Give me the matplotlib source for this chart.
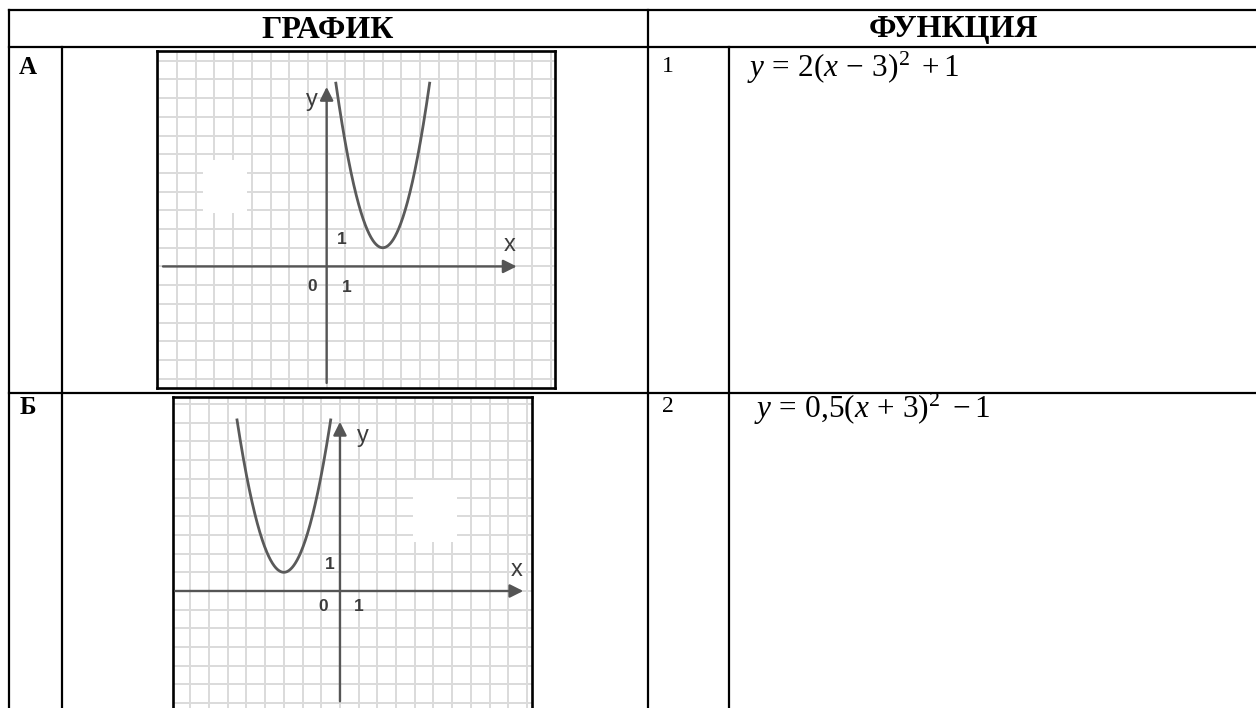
import numpy as np
import matplotlib
matplotlib.use("Agg")
import matplotlib.pyplot as plt
from matplotlib.patches import Rectangle

# ---------------- data ----------------
headers = ["ГРАФИК", "ФУНКЦИЯ"]
row_letters = ["А", "Б"]
row_numbers = ["1", "2"]
formulas = [r"$y\,=\,2(x\,-\,3)^2\ +1$", r"$y\,=\,0{,}5(x\,+\,3)^2\ -1$"]
vertex_x = [3, -3]          # vertex of each drawn parabola
vertex_y = [1, 1]
coef = [1.4, 1.3]           # steepness
curve_top = [9.8, 9.15]     # y value where the drawn branches end
origin_label = "0"
unit_label = "1"

# ---------------- layout ----------------
W, H = 1256, 708
plt.rcParams['mathtext.fontset'] = 'custom'
plt.rcParams['mathtext.rm'] = 'Liberation Serif'
plt.rcParams['mathtext.it'] = 'Liberation Serif:italic'
plt.rcParams['mathtext.bf'] = 'Liberation Serif:bold'

fig = plt.figure(figsize=(W / 100, H / 100), dpi=100)
ax0 = fig.add_axes([0, 0, 1, 1])
ax0.set_xlim(0, W)
ax0.set_ylim(H, 0)
ax0.axis('off')

lw_t = 1.6
k = 'black'
# table lines
ax0.plot([9, W + 5], [10, 10], color=k, lw=lw_t)
ax0.plot([9, W + 5], [47, 47], color=k, lw=lw_t)
ax0.plot([9, W + 5], [393, 393], color=k, lw=lw_t)
ax0.plot([9, 9], [10, H + 5], color=k, lw=lw_t)
ax0.plot([62, 62], [47, H + 5], color=k, lw=lw_t)
ax0.plot([648, 648], [10, H + 5], color=k, lw=lw_t)
ax0.plot([729, 729], [47, H + 5], color=k, lw=lw_t)

serif = 'Liberation Serif'
ax0.text(328, 30, headers[0], fontsize=23, fontweight='bold', family=serif,
         ha='center', va='center')
ax0.text(953, 30, headers[1], fontsize=23, fontweight='bold', family=serif,
         ha='center', va='center')

row_y = [68, 408]
for i in range(2):
    ax0.text(28, row_y[i], row_letters[i], fontsize=18, fontweight='bold',
             family=serif, ha='center', va='center')
    ax0.text(668, row_y[i] - 1, row_numbers[i], fontsize=17, family=serif,
             ha='center', va='center')
ax0.text(747, 77, formulas[0], fontsize=22.5, ha='left', va='baseline')
ax0.text(754, 418, formulas[1], fontsize=22.5, ha='left', va='baseline')

# ---------------- graph panels ----------------
panels = [
    dict(box=(157, 51, 555, 388), xlim=(-9.07, 12.21), ylim=(-6.5, 11.52),
         xaxis=(-8.75, 10.16), yaxis=(-6.23, 9.6),
         ylab=(-0.8, 8.9), xlab=(9.8, 1.15), ytick=(0.8, 1.45),
         zero=(-0.75, -1.05), xtick=(1.07, -1.1),
         patch=(-6.6, 2.84, 2.32, 2.86)),
    dict(box=(173.3, 397.3, 531.7, 720), xlim=(-8.91, 10.25), ylim=(-6.9, 10.36),
         xaxis=(-8.8, 9.8), yaxis=(-5.9, 9.05),
         ylab=(1.2, 8.3), xlab=(9.45, 1.12), ytick=(-0.55, 1.4),
         zero=(-0.9, -0.85), xtick=(0.98, -0.85),
         patch=(3.92, 2.64, 2.32, 3.3)),
]

gcol = '#555555'
for i, p in enumerate(panels):
    x0, y0, x1, y1 = p['box']
    ax = fig.add_axes([x0 / W, 1 - y1 / H, (x1 - x0) / W, (y1 - y0) / H])
    ax.set_xlim(*p['xlim'])
    ax.set_ylim(*p['ylim'])
    ax.set_xticks(np.arange(np.ceil(p['xlim'][0]), p['xlim'][1]))
    ax.set_yticks(np.arange(np.ceil(p['ylim'][0]), p['ylim'][1]))
    ax.grid(True, color='#dbdbdb', lw=1.4)
    ax.set_axisbelow(True)
    ax.tick_params(length=0, labelbottom=False, labelleft=False)
    for s in ax.spines.values():
        s.set_linewidth(1.9)
        s.set_color('black')
    px, py, pw, ph = p['patch']
    ax.add_patch(Rectangle((px, py), pw, ph, facecolor='white',
                           edgecolor='none', zorder=2))
    # axes with arrows
    ax.annotate('', xy=(p['xaxis'][1], 0), xytext=(p['xaxis'][0], 0),
                arrowprops=dict(arrowstyle='-|>', color=gcol, lw=1.7,
                                mutation_scale=20, shrinkA=0, shrinkB=0),
                zorder=3)
    ax.annotate('', xy=(0, p['yaxis'][1]), xytext=(0, p['yaxis'][0]),
                arrowprops=dict(arrowstyle='-|>', color=gcol, lw=1.7,
                                mutation_scale=20, shrinkA=0, shrinkB=0),
                zorder=3)
    # parabola
    half = np.sqrt((curve_top[i] - vertex_y[i]) / coef[i])
    xs = np.linspace(vertex_x[i] - half, vertex_x[i] + half, 300)
    ys = coef[i] * (xs - vertex_x[i]) ** 2 + vertex_y[i]
    ax.plot(xs, ys, color='#5a5a5a', lw=2.0, zorder=4)
    # labels
    sans = 'Liberation Sans'
    tc = '#3c3c3c'
    ax.text(*p['ylab'], 'y', fontsize=17, family=sans, color=tc,
            ha='center', va='center', zorder=5)
    ax.text(*p['xlab'], 'x', fontsize=17, family=sans, color=tc,
            ha='center', va='center', zorder=5)
    ax.text(*p['ytick'], unit_label, fontsize=12.5, family=sans, color=tc,
            fontweight='bold', ha='center', va='center', zorder=5)
    ax.text(*p['zero'], origin_label, fontsize=12.5, family=sans, color=tc,
            fontweight='bold', ha='center', va='center', zorder=5)
    ax.text(*p['xtick'], unit_label, fontsize=12.5, family=sans, color=tc,
            fontweight='bold', ha='center', va='center', zorder=5)

fig.savefig('out.png', dpi=100)
